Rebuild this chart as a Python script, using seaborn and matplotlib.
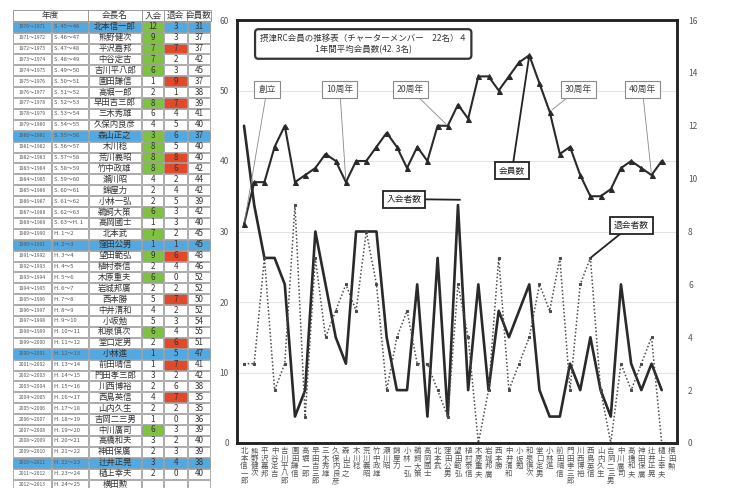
import matplotlib
matplotlib.use("Agg")
import matplotlib.pyplot as plt
import seaborn as sns
import numpy as np
import pandas as pd
from matplotlib.patches import Rectangle

sns.set_theme(style="white")
plt.rcParams["font.family"] = ["Noto Sans CJK JP", "DejaVu Sans"]

# ---------------- data ----------------
fiscal_years = ["1970～1971", "1971～1972", "1972～1973", "1973～1974", "1974～1975",
                "1975～1976", "1976～1977", "1977～1978", "1978～1979", "1979～1980",
                "1980～1981", "1981～1982", "1982～1983", "1983～1984", "1984～1985",
                "1985～1986", "1986～1987", "1987～1988", "1988～1989", "1989～1990",
                "1990～1991", "1991～1992", "1992～1993", "1993～1994", "1994～1995",
                "1995～1996", "1996～1997", "1997～1998", "1998～1999", "1999～2000",
                "2000～2001", "2001～2002", "2002～2003", "2003～2004", "2004～2005",
                "2005～2006", "2006～2007", "2007～2008", "2008～2009", "2009～2010",
                "2010～2011", "2011～2012", "2012～2013"]
eras = ["S. 45～46", "S. 46～47", "S. 47～48", "S. 48～49", "S. 49～50", "S. 50～51",
        "S. 51～52", "S. 52～53", "S. 53～54", "S. 54～55", "S. 55～56", "S. 56～57",
        "S. 57～58", "S. 58～59", "S. 59～60", "S. 60～61", "S. 61～62", "S. 62～63",
        "S. 63～H. 1", "H. 1～2", "H. 2～3", "H. 3～4", "H. 4～5", "H. 5～6", "H. 6～7",
        "H. 7～8", "H. 8～9", "H. 9～10", "H. 10～11", "H. 11～12", "H. 12～13",
        "H. 13～14", "H. 14～15", "H. 15～16", "H. 16～17", "H. 17～18", "H. 18～19",
        "H. 19～20", "H. 20～21", "H. 21～22", "H. 22～23", "H. 23～24", "H. 24～25"]
presidents = ["北本信一郎", "熊野健次", "平沢嘉邦", "中谷定吉", "吉川平八郎", "園田謙信",
              "高堀一郎", "早田吉三郎", "三木秀雄", "久保内良彦", "森山正之", "木川稔",
              "荒川義昭", "竹中政雄", "瀬川昭", "錦屋力", "小林一弘", "鵜飼大策",
              "高岡國士", "北本武", "窪田公男", "望田範弘", "植村泰信", "木原重夫",
              "岩城邦廣", "西本勝", "中井清和", "小坂勉", "和泉慎次", "堂口定男",
              "小林進", "前田晴信", "門田孝三郎", "川西博裕", "西島英信", "山内久生",
              "吉岡二三男", "中川廣司", "高橋和夫", "神田保廣", "辻井正晃", "樋上幸夫",
              "横田勲"]
joined = [12, 9, 7, 7, 6, 1, 2, 8, 6, 4, 3, 8, 8, 8, 4, 2, 2, 6, 1, 7, 1,
          9, 2, 6, 2, 5, 4, 5, 6, 2, 1, 1, 3, 2, 4, 2, 1, 6, 3, 2, 3, 2]
left_ = [3, 3, 7, 2, 3, 9, 1, 7, 4, 5, 6, 5, 8, 6, 2, 4, 5, 3, 3, 2, 1,
         6, 4, 0, 2, 7, 2, 3, 4, 6, 5, 7, 2, 6, 7, 2, 0, 3, 2, 3, 4, 0]
members = [31, 37, 37, 42, 45, 37, 38, 39, 41, 40, 37, 40, 40, 42, 44, 42, 39, 42, 40, 45, 45,
           48, 46, 52, 52, 50, 52, 54, 55, 51, 47, 41, 42, 38, 35, 35, 36, 39, 40, 39, 38, 40]
anniv_rows = [0, 10, 20, 30, 40]
green_rows = [0, 1, 2, 3, 4, 7, 10, 11, 12, 13, 17, 19, 21, 23, 28, 37]
red_rows = [2, 5, 7, 12, 13, 21, 25, 29, 31, 34]
milestones = [("創立", 0), ("10周年", 10), ("20周年", 20), ("30周年", 30), ("40周年", 40)]

df = pd.DataFrame({"idx": np.arange(len(members)), "会員数": members,
                   "入会者数": joined, "退会者数": left_})

# ---------------- figure ----------------
W, H = 729, 488
fig = plt.figure(figsize=(W / 100, H / 100), dpi=100)
fig.patch.set_facecolor("white")

# ---- table (pixel coordinates) ----
tab = fig.add_axes([0, 0, 1, 1])
tab.set_xlim(0, W)
tab.set_ylim(H, 0)
tab.axis("off")
cols = [12.7, 51.7, 88.3, 141.7, 164.0, 187.3, 210.7]
row0, rh = 26.7, 10.9
head_top = 10.0
BLUE, GREEN, RED = "#52a9e2", "#7fc241", "#e2492b"
LINE = "#8a8a8a"

# header
tab.add_patch(Rectangle((cols[0], head_top), cols[-1] - cols[0], row0 - rh / 2 - head_top,
                        fc="white", ec=LINE, lw=0.6))
hy = (head_top + row0 - rh / 2) / 2
for (x0, x1), t in zip([(cols[0], cols[2]), (cols[2], cols[3]), (cols[3], cols[4]),
                        (cols[4], cols[5]), (cols[5], cols[6])],
                       ["年度", "会長名", "入会", "退会", "会員数"]):
    tab.text((x0 + x1) / 2, hy, t, ha="center", va="center", fontsize=6.2, color="#333")
for x in cols[2:-1]:
    tab.plot([x, x], [head_top, row0 - rh / 2], color=LINE, lw=0.6)

for i in range(len(presidents)):
    top = row0 + i * rh - rh / 2
    cy = row0 + i * rh
    for c in range(6):
        x0, x1 = cols[c], cols[c + 1]
        fc = "white"
        if i in anniv_rows:
            fc = BLUE
        if c == 3 and i in green_rows:
            fc = GREEN
        if c == 4 and i in red_rows:
            fc = RED
        tab.add_patch(Rectangle((x0 + 0.5, top + 0.5), x1 - x0 - 1, rh - 1, fc=fc, ec=LINE, lw=0.5))
    tab.text((cols[0] + cols[1]) / 2, cy, fiscal_years[i], ha="center", va="center",
             fontsize=3.6, color="#555")
    tab.text(cols[1] + 2, cy, eras[i], ha="left", va="center", fontsize=4.2, color="#555")
    tab.text((cols[2] + cols[3]) / 2, cy, presidents[i], ha="center", va="center",
             fontsize=6.0, color="#333")
    if i < len(members):
        for c, v in zip([3, 4, 5], [joined[i], left_[i], members[i]]):
            tab.text((cols[c] + cols[c + 1]) / 2, cy, str(v), ha="center", va="center",
                     fontsize=5.8, color="#333")

# ---- chart ----
x_l, x_r, y_t, y_b = 237, 677, 20, 443
ax = fig.add_axes([x_l / W, (H - y_b) / H, (x_r - x_l) / W, (y_b - y_t) / H])
ax2 = ax.twinx()
ax.set_xlim(-0.69, 42.5)
ax.set_ylim(0, 60)
ax2.set_ylim(0, 16)

sns.lineplot(data=df, x="idx", y="会員数", ax=ax, color="#2a2a2a", lw=1.5,
             marker="^", markersize=3.6, markeredgecolor="#2a2a2a")
sns.lineplot(data=df, x="idx", y="入会者数", ax=ax2, color="#2a2a2a", lw=1.9)
sns.lineplot(data=df, x="idx", y="退会者数", ax=ax2, color="#4a4a4a", lw=1.1,
             linestyle=(0, (1, 1.4)), marker="s", markersize=2.0, markeredgecolor="#4a4a4a")

ax.set_yticks(np.arange(0, 61, 10))
ax2.set_yticks(np.arange(0, 17, 2))
ax.yaxis.grid(True, color="#e4e4e4", lw=0.8)
ax.set_xticks(range(len(presidents)))
ax.set_xticklabels(["\n".join(n) for n in presidents], fontsize=5.4, color="#444",
                   linespacing=0.92, va="top")
for a in (ax, ax2):
    a.set_xlabel("")
    a.set_ylabel("")
    a.tick_params(length=0, labelsize=6, colors="#555")
ax.tick_params(axis="x", pad=3, labelsize=5.4)
ax.tick_params(axis="y", pad=6)
ax2.tick_params(axis="y", pad=8)
for a in (ax, ax2):
    for s in a.spines.values():
        s.set_color("#222")
        s.set_linewidth(1.8)

# title box
ax2.text(11.7, 56.6, "摂津RC会員の推移表（チャーターメンバー　22名）４\n1年間平均会員数(42. 3名)",
         transform=ax.transData, ha="center", va="center", fontsize=6.1, color="#333",
         linespacing=1.3,
         bbox=dict(boxstyle="round,pad=0.55,rounding_size=0.4", fc="white", ec="#333", lw=1.6))

# milestone boxes
box_x = {0: 2.26, 10: 9.4, 20: 16.3, 30: 32.8, 40: 39.1}
for label, i in milestones:
    ax2.annotate(label, xy=(i, members[i]), xycoords=ax.transData,
                 xytext=(box_x[i], 50.2), textcoords=ax.transData,
                 ha="center", va="center", fontsize=6.3, color="#444",
                 bbox=dict(boxstyle="square,pad=0.45", fc="white", ec="#8a8a8a", lw=0.8),
                 arrowprops=dict(arrowstyle="-", color="#888", lw=0.6, shrinkA=0, shrinkB=2))

# series callouts
ax2.annotate("会員数", xy=(28, members[28]), xycoords=ax.transData,
             xytext=(26.3, 38.6), textcoords=ax.transData, ha="center", va="center",
             fontsize=6.3, color="#222",
             bbox=dict(boxstyle="square,pad=0.45", fc="white", ec="#222", lw=1.3),
             arrowprops=dict(arrowstyle="-", color="#222", lw=1.3, shrinkA=0, shrinkB=1))
ax2.annotate("入会者数", xy=(21.2, joined[21] + 0.2), xycoords=ax2.transData,
             xytext=(15.7, 34.6), textcoords=ax.transData, ha="center", va="center",
             fontsize=6.3, color="#222",
             bbox=dict(boxstyle="square,pad=0.45", fc="white", ec="#222", lw=1.3),
             arrowprops=dict(arrowstyle="-", color="#222", lw=1.3, shrinkA=0, shrinkB=0))
ax2.annotate("退会者数", xy=(34, left_[34]), xycoords=ax2.transData,
             xytext=(38.0, 30.9), textcoords=ax.transData, ha="center", va="center",
             fontsize=6.3, color="#222",
             bbox=dict(boxstyle="square,pad=0.45", fc="white", ec="#222", lw=1.3),
             arrowprops=dict(arrowstyle="-", color="#222", lw=1.3, shrinkA=0, shrinkB=1))

fig.savefig("out.png", dpi=100, facecolor="white")
